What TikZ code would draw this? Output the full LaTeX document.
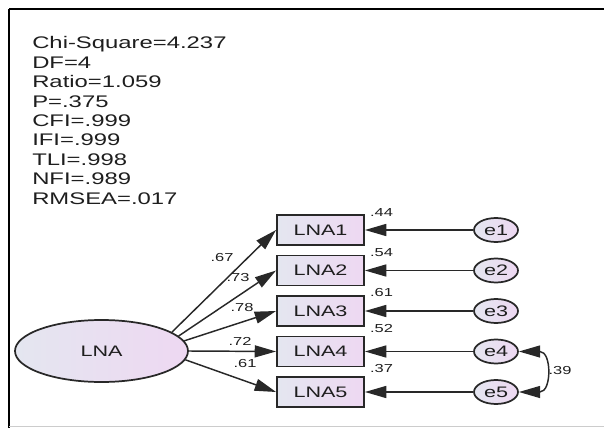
\documentclass[tikz,border=0pt]{standalone}
\usepackage{fontspec}
\setmainfont{Liberation Sans}[FakeStretch=1.42]
\usetikzlibrary{arrows.meta,shapes.geometric}
\definecolor{txt}{HTML}{1E1E1E}
\definecolor{ln}{HTML}{282828}
\definecolor{fl}{HTML}{E4E6F0}
\definecolor{fr}{HTML}{EED8F2}
\begin{document}
\begin{tikzpicture}[x=0.75pt,y=-0.75pt,
  stat/.style={anchor=base west, inner sep=0pt, font=\fontsize{12.6}{14.6}\selectfont, text=txt},
  obs/.style={draw=ln, line width=1.4pt, left color=fl, right color=fr, minimum width=65.25pt, minimum height=22.5pt, inner sep=0pt, font=\fontsize{11.4}{13}\selectfont, text=txt},
  lat/.style={ellipse, draw=ln, line width=1.3pt, left color=fl, right color=fr, minimum width=129.75pt, minimum height=46.5pt, inner sep=0pt, font=\fontsize{11.4}{13}\selectfont, text=txt},
  err/.style={ellipse, draw=ln, line width=1.3pt, left color=fl, right color=fr, minimum width=33pt, minimum height=18pt, inner sep=0pt, font=\fontsize{11.4}{13}\selectfont, text=txt},
  tip/.tip={Triangle[length=16pt,width=9pt]},
  reg/.style={draw=ln, line width=1.1pt, -tip},
  coef/.style={font=\fontsize{8.7}{10}\selectfont, text=txt, inner sep=0pt},
]
\useasboundingbox (0,0) rectangle (604,428);
% frame
\draw[black, line width=1.5pt] (9,9) -- (604,9);
\draw[black, line width=1.5pt] (9,9) -- (9,428);
\draw[gray!40, line width=1pt] (9,426.5) -- (604,426.5);
% fit statistics
\node[stat] (s1) at (32,49) {Chi-Square=4.237};
\node[stat] (s2) at (32,68.4) {DF=4};
\node[stat] (s3) at (32,87.8) {Ratio=1.059};
\node[stat] (s4) at (32,107.2) {P=.375};
\node[stat] (s5) at (32,126.6) {CFI=.999};
\node[stat] (s6) at (32,146) {IFI=.999};
\node[stat] (s7) at (32,165.4) {TLI=.998};
\node[stat] (s8) at (32,184.8) {NFI=.989};
\node[stat] (s9) at (32,204.2) {RMSEA=.017};
% latent
\node[lat] (LNA) at (101.5,351) {LNA};
% observed
\node[obs] (LNA1) at (320.5,230) {LNA1};
\node[obs] (LNA2) at (320.5,270.5) {LNA2};
\node[obs] (LNA3) at (320.5,311) {LNA3};
\node[obs] (LNA4) at (320.5,351.5) {LNA4};
\node[obs] (LNA5) at (320.5,392) {LNA5};
% errors
\node[err] (e1) at (496,230) {e1};
\node[err] (e2) at (496,270.5) {e2};
\node[err] (e3) at (496,311) {e3};
\node[err] (e4) at (496,351.5) {e4};
\node[err] (e5) at (496,392) {e5};
% loadings
\draw[reg] (LNA.15) -- (LNA1.west);
\draw[reg] (LNA.11) -- (LNA2.west);
\draw[reg] (LNA.7) -- (LNA3.west);
\draw[reg] (LNA.0) -- (LNA4.west);
\draw[reg] (LNA.-6) -- (LNA5.west);
% error paths
\draw[reg] (e1.west) -- (LNA1.east);
\draw[reg] (e2.west) -- (LNA2.east);
\draw[reg] (e3.west) -- (LNA3.east);
\draw[reg] (e4.west) -- (LNA4.east);
\draw[reg] (e5.west) -- (LNA5.east);
% covariance
\draw[draw=ln, line width=1.1pt, tip-tip]
  (e4.east) .. controls +(33,0) and +(33,0) .. (e5.east);
% coefficient labels
\node[coef] (c1) at (222,258) {.67};
\node[coef] (c2) at (238,278) {.73};
\node[coef] (c3) at (242,308) {.78};
\node[coef] (c4) at (240,341) {.72};
\node[coef] (c5) at (245,364) {.61};
\node[coef] (r1) at (381.5,213) {.44};
\node[coef] (r2) at (381.5,253) {.54};
\node[coef] (r3) at (381.5,293) {.61};
\node[coef] (r4) at (381.5,329) {.52};
\node[coef] (r5) at (381.5,369) {.37};
\node[coef] (cv) at (560,371) {.39};
\end{tikzpicture}
\end{document}
